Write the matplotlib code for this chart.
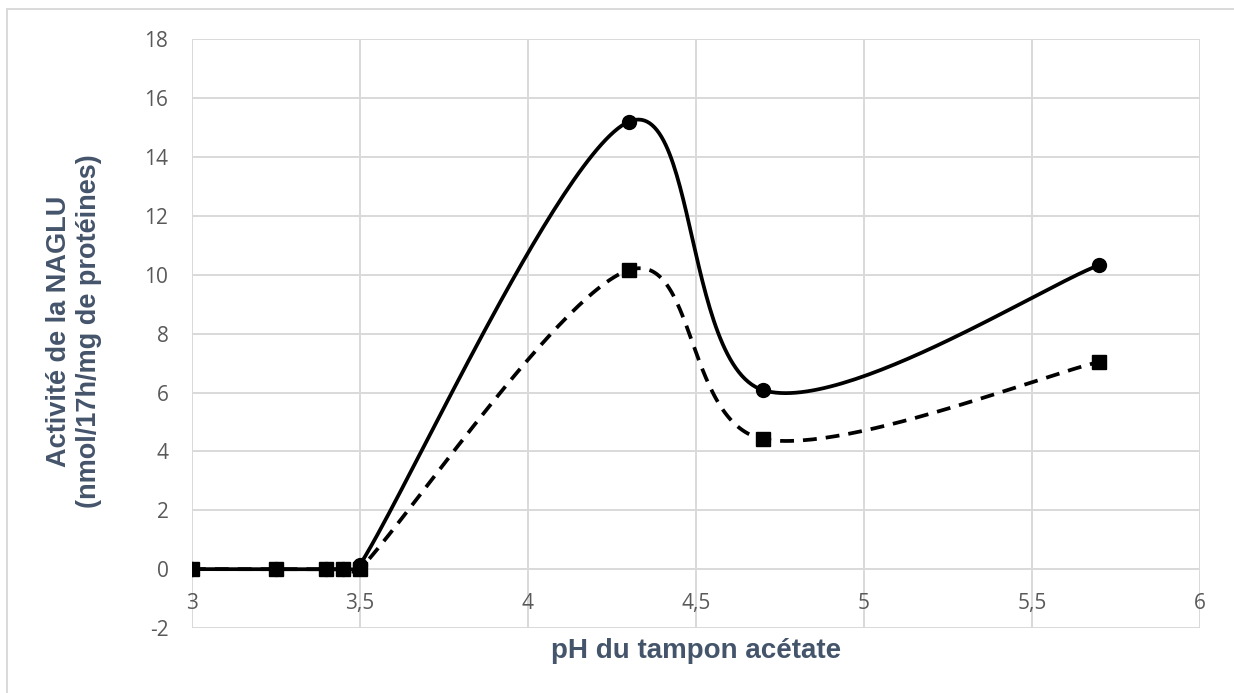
import numpy as np
import matplotlib
matplotlib.use("Agg")
import matplotlib.pyplot as plt
from matplotlib.lines import Line2D

plt.rcParams["axes.unicode_minus"] = False

# ---- data ----
ph_solid = [3.0, 3.25, 3.4, 3.45, 3.5, 4.3, 4.7, 5.7]
act_solid = [0.0, 0.0, 0.0, 0.0, 0.15, 15.2, 6.08, 10.33]
ph_dashed = [3.0, 3.25, 3.4, 3.45, 3.5, 4.3, 4.7, 5.7]
act_dashed = [0.0, 0.0, 0.0, 0.0, 0.0, 10.16, 4.42, 7.04]
xticks = [3, 3.5, 4, 4.5, 5, 5.5, 6]
xticklabels = ["3", "3,5", "4", "4,5", "5", "5,5", "6"]
yticks = list(range(-2, 19, 2))
xlabel = "pH du tampon acétate"
ylabel = "Activité de la NAGLU\n(nmol/17h/mg de protéines)"

W, H = 1234, 693
fig = plt.figure(figsize=(W / 100, H / 100), dpi=100)
ax = fig.add_axes([192 / W, 1 - 628 / H, (1200 - 192) / W, (628 - 39.3) / H])
ax.set_xlim(3, 6)
ax.set_ylim(-2, 18)

# pixel scale for Excel-like smoothing
bb = ax.get_window_extent()
sx = bb.width / 3.0
sy = bb.height / 20.0


def excel_smooth(xs, ys, n=60):
    P = np.column_stack([np.asarray(xs, float) * sx, np.asarray(ys, float) * sy])
    out = []
    m = len(P)
    for i in range(m - 1):
        p1, p2 = P[i], P[i + 1]
        p0 = P[i - 1] if i > 0 else p1
        p3 = P[i + 2] if i + 2 < m else p2
        d02 = np.hypot(*(p2 - p0))
        d12 = np.hypot(*(p2 - p1))
        d13 = np.hypot(*(p3 - p1))
        f1 = 1 / 6.0
        f2 = 1 / 6.0
        if d02 > 0 and d02 / 6.0 >= d12 / 2.0:
            f1 = d12 / (2 * d02)
        if d13 > 0 and d13 / 6.0 >= d12 / 2.0:
            f2 = d12 / (2 * d13)
        c1 = p1 + f1 * (p2 - p0)
        c2 = p2 - f2 * (p3 - p1)
        t = np.linspace(0, 1, n)[:, None] if i == 0 else np.linspace(0, 1, n)[1:, None]
        seg = ((1 - t) ** 3) * p1 + 3 * ((1 - t) ** 2) * t * c1 + 3 * (1 - t) * t ** 2 * c2 + t ** 3 * p2
        out.append(seg)
    pts = np.vstack(out)
    return pts[:, 0] / sx, pts[:, 1] / sy


grid_c = "#D9D9D9"
ax.set_xticks(xticks)
ax.set_xticklabels(xticklabels)
ax.set_yticks(yticks)
ax.grid(True, color=grid_c, linewidth=1.4)
ax.set_axisbelow(True)
for s in ax.spines.values():
    s.set_visible(False)
ax.spines["bottom"].set_position(("data", 0))
ax.tick_params(axis="both", length=0, colors="#595959", labelsize=15)
ax.tick_params(axis="x", pad=17)
ax.tick_params(axis="y", pad=17)
for lab in ax.get_xticklabels() + ax.get_yticklabels():
    lab.set_family("Open Sans")

lw = 2.7
xs, ys = excel_smooth(ph_solid, act_solid)
ax.plot(xs, ys, color="black", lw=lw, solid_capstyle="round", zorder=3)
ax.plot(ph_solid, act_solid, "o", color="black", ms=10, zorder=4)

xd, yd = excel_smooth(ph_dashed, act_dashed)
ax.plot(xd, yd, color="black", lw=lw, dashes=(3.7, 2.4), zorder=5)
ax.plot(ph_dashed, act_dashed, "s", color="black", ms=10, zorder=6)

title_c = "#44546A"
fig.text(696 / W, 1 - 651 / H, xlabel, fontsize=20, fontweight="bold", color=title_c,
         family="Liberation Sans", ha="center", va="center")
fig.text(74 / W, 1 - 331 / H, ylabel, fontsize=19.5, fontweight="bold", color=title_c,
         family="Liberation Sans", ha="center", va="center", rotation=90,
         linespacing=1.18, multialignment="center")

# outer chart border
fig.add_artist(Line2D([7 / W, 7 / W], [0, 1 - 9 / H], color="#D9D9D9", lw=1.4))
fig.add_artist(Line2D([7 / W, 1], [1 - 9 / H, 1 - 9 / H], color="#D9D9D9", lw=1.4))

fig.savefig("out.png", dpi=100)
